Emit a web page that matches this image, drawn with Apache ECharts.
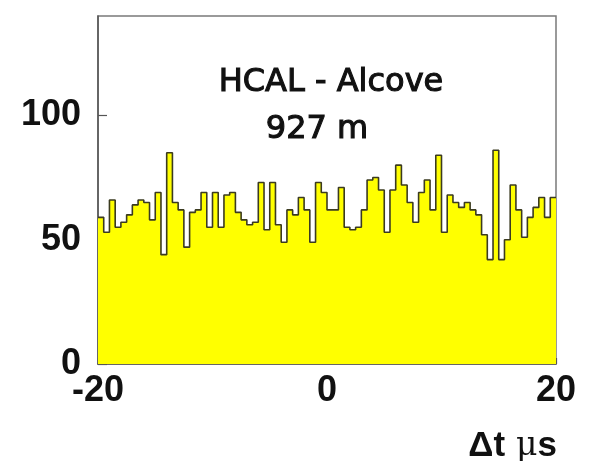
<!DOCTYPE html>
<html>
<head>
<meta charset="utf-8">
<script src="https://cdn.jsdelivr.net/npm/echarts@6/dist/echarts.min.js"></script>
<style>
html,body{margin:0;padding:0;background:#fff;}
#chart{width:597px;height:461px;}
</style>
</head>
<body>
<div id="chart"></div>
<script>
// Histogram definition: 80 bins of 0.5 microseconds from -20 to 20
const binStart = -20;
const binWidth = 0.5;
const counts = [
  59, 53, 66, 55, 57, 60, 64, 66, 65, 58,
  69, 44, 85, 65, 62, 47, 61, 62, 69, 55,
  69, 55, 68, 69, 61, 58, 56, 57, 73, 54,
  73, 56, 49, 62, 60, 67, 62, 49, 73, 69,
  62, 62, 71, 55, 54, 55, 62, 74, 75, 70,
  53, 70, 80, 72, 65, 57, 69, 74, 62, 84,
  53, 68, 65, 63, 65, 62, 60, 52, 42, 86,
  42, 50, 72, 62, 51, 59, 63, 67, 59, 67
];
const xTickLabels = ['-20', '0', '20'];
const yTickLabels = ['0', '50', '100'];
const titleLines = ['HCAL - Alcove', '927 m'];

const stepData = counts.map((c, i) => [binStart + i * binWidth, c]);
stepData.push([binStart + counts.length * binWidth, counts[counts.length - 1]]);

const chart = echarts.init(document.getElementById('chart'), null, {renderer: 'canvas'});
const labelFont = {fontFamily: 'Liberation Sans, Arial, sans-serif', fontWeight: 'bold', fontSize: 36, color: '#111'};
const titleFont = 'normal 32px "DejaVu Sans", sans-serif';

chart.setOption({
  animation: false,
  backgroundColor: '#ffffff',
  grid: {left: 98, right: 41, top: 16, bottom: 97, show: true, borderColor: '#7a7a7a', borderWidth: 1.5, backgroundColor: 'transparent'},
  xAxis: {
    type: 'value', min: -20, max: 20, interval: 5,
    axisLine: {show: true, onZero: false, lineStyle: {color: '#555', width: 1.5}},
    axisTick: {show: true, inside: true, length: 6, lineStyle: {color: '#555', width: 1.2}},
    splitLine: {show: false},
    axisLabel: Object.assign({
      margin: 9, showMinLabel: true, showMaxLabel: true,
      formatter: v => { const s = String(v); return xTickLabels.includes(s) ? s : ''; }
    }, labelFont)
  },
  yAxis: {
    type: 'value', min: 0, max: 140, interval: 50,
    axisLine: {show: true, onZero: false, lineStyle: {color: '#555', width: 1.5}},
    axisTick: {show: true, inside: true, length: 9, lineStyle: {color: '#555', width: 1.2}},
    splitLine: {show: false},
    axisLabel: Object.assign({
      margin: 17, showMaxLabel: false,
      formatter: v => { const s = String(v); return yTickLabels.includes(s) ? s : ''; }
    }, labelFont)
  },
  series: [{
    type: 'line',
    step: 'end',
    data: stepData,
    symbol: 'none',
    lineStyle: {color: '#3b3b20', width: 1.6},
    areaStyle: {color: '#ffff00', opacity: 1},
    z: 2
  }],
  graphic: [
    {type: 'text', x: 331, y: 83, z: 10,
      style: {text: titleLines[0], font: titleFont, fill: '#111', stroke: '#111', lineWidth: 1.1, align: 'center', verticalAlign: 'middle'}},
    {type: 'text', x: 317, y: 130, z: 10,
      style: {text: titleLines[1], font: titleFont, fill: '#111', stroke: '#111', lineWidth: 1.1, align: 'center', verticalAlign: 'middle'}},
    {type: 'text', right: 40, top: 429, z: 10,
      style: {
        text: '{a|Δt}{sp| }{b|μ}{a|s}',
        rich: {
          a: {fontFamily: 'Liberation Sans, Arial, sans-serif', fontWeight: 'bold', fontSize: 35, fill: '#111'},
          sp: {fontFamily: 'Liberation Sans, Arial, sans-serif', fontSize: 34, width: 11},
          b: {fontFamily: 'DejaVu Serif, serif', fontSize: 33, fill: '#111'}
        }
      }}
  ]
});
</script>
</body>
</html>
